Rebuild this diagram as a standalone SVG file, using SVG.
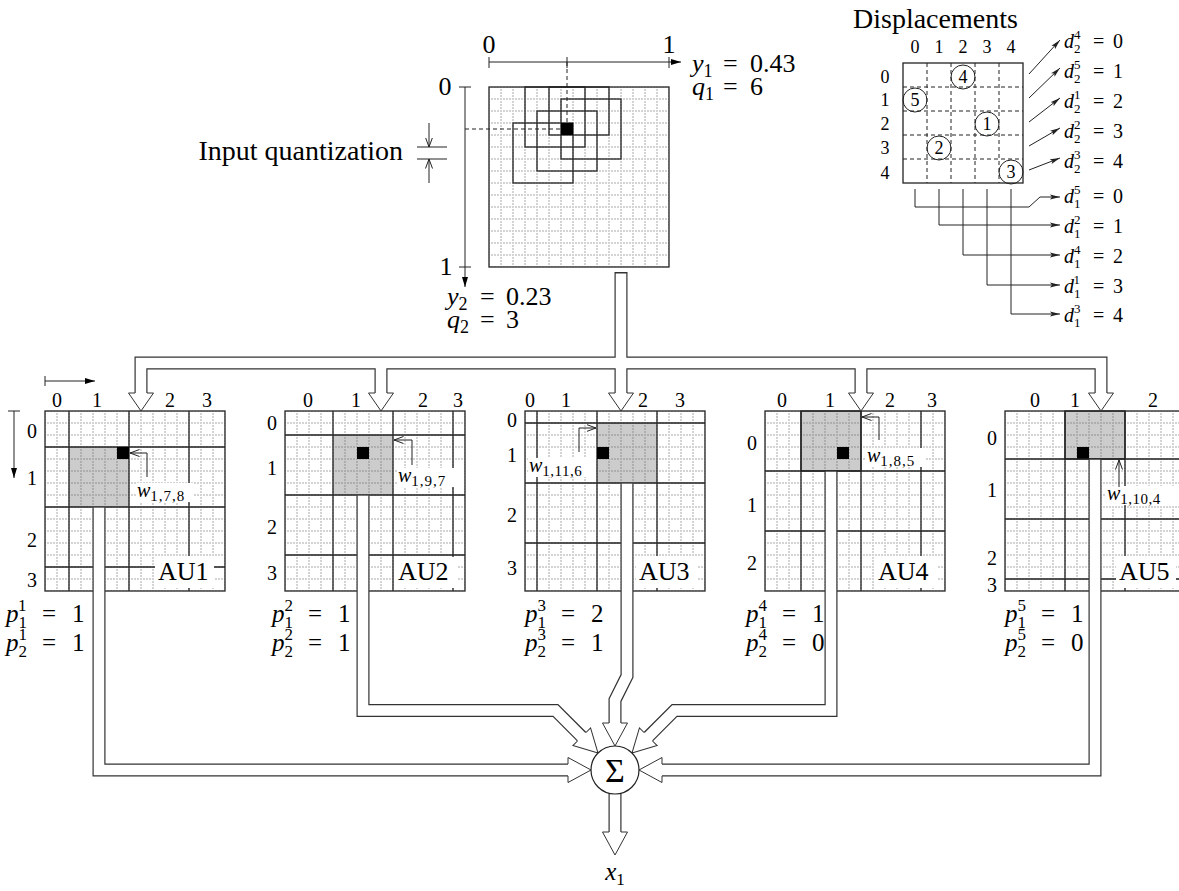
<svg xmlns="http://www.w3.org/2000/svg" width="1179" height="891" viewBox="0 0 1179 891" font-family="'Liberation Serif','DejaVu Serif',serif">
<defs>
<style>
text{font-family:'Liberation Serif','DejaVu Serif',serif}
.t{fill:#000}
.i{font-style:italic}
.c{fill:none;stroke:#222;stroke-width:1.3}
.ln{fill:none;stroke:#222;stroke-width:1}
.dash{fill:none;stroke:#222;stroke-width:1;stroke-dasharray:4,3}
.pb{fill:none;stroke:#333;stroke-width:13;stroke-linejoin:miter}
.pw{fill:none;stroke:#fff;stroke-width:10.6;stroke-linejoin:miter}
.head{fill:#fff;stroke:#333;stroke-width:1}
.lbl{fill:#fff}
</style>
<pattern id="fine" x="8.5" y="2.5" width="12" height="12" patternUnits="userSpaceOnUse">
<path d="M0.5,0V12M0,0.5H12" fill="none" stroke="#555" stroke-width="1" stroke-dasharray="1,2"/>
</pattern>
<marker id="af" viewBox="0 0 10 6" refX="10" refY="3" markerWidth="10" markerHeight="6" markerUnits="userSpaceOnUse" orient="auto">
<path d="M0,0L10,3L0,6z" fill="#000"/>
</marker>
<marker id="ao" viewBox="0 0 10 8" refX="9.5" refY="4" markerWidth="10" markerHeight="8" markerUnits="userSpaceOnUse" orient="auto">
<path d="M0,0.5L9.5,4L0,7.5" fill="none" stroke="#222" stroke-width="1"/>
</marker>
<marker id="as" viewBox="0 0 10 6" refX="10" refY="3" markerWidth="10" markerHeight="6" markerUnits="userSpaceOnUse" orient="auto">
<path d="M0,0.5L10,3L0,5.5L2,3z" fill="#222"/>
</marker>
</defs>
<rect width="1179" height="891" fill="#fff"/>

<!-- Input grid -->
<g id="input">
<rect x="489" y="87" width="180" height="180" fill="url(#fine)"/>
<rect class="c" x="525" y="87" width="60" height="60"/>
<rect class="c" x="549" y="87" width="60" height="48"/>
<rect class="c" x="561" y="99" width="60" height="60"/>
<rect class="c" x="537" y="111" width="60" height="60"/>
<rect class="c" x="513" y="123" width="60" height="60"/>
<rect x="561" y="123" width="12" height="12" fill="#000"/>
<rect class="c" x="489" y="87" width="180" height="180"/>
<path class="dash" d="M567,62V123M465,129H561"/>
<path class="ln" d="M489,62H681" marker-end="url(#af)"/>
<path class="ln" d="M489,57V68M567,57V68M669,57V68"/>
<path class="ln" d="M465,87V287" marker-end="url(#af)"/>
<path class="ln" d="M459,87H471M459,267H471"/>
<text class="t" x="489" y="53" font-size="26" text-anchor="middle">0</text>
<text class="t" x="669" y="53" font-size="26" text-anchor="middle">1</text>
<text class="t" x="445" y="95" font-size="26" text-anchor="middle">0</text>
<text class="t" x="446" y="275" font-size="26" text-anchor="middle">1</text>
<text class="t" x="692" y="72" font-size="26"><tspan class="i">y</tspan><tspan font-size="18" dy="5">1</tspan><tspan x="723" dy="-5">=</tspan><tspan x="750">0.43</tspan></text>
<text class="t" x="692" y="95" font-size="26"><tspan class="i">q</tspan><tspan font-size="18" dy="5">1</tspan><tspan x="723" dy="-5">=</tspan><tspan x="750">6</tspan></text>
<text class="t" x="447" y="305" font-size="26"><tspan class="i">y</tspan><tspan font-size="18" dy="5">2</tspan><tspan x="480" dy="-5">=</tspan><tspan x="506">0.23</tspan></text>
<text class="t" x="447" y="328" font-size="26"><tspan class="i">q</tspan><tspan font-size="18" dy="5">2</tspan><tspan x="480" dy="-5">=</tspan><tspan x="506">3</tspan></text>
</g>

<g id="quantization">
<text class="t" x="403" y="160" font-size="28" text-anchor="end">Input quantization</text>
<path class="ln" d="M417,147H447M417,159H447"/>
<path class="ln" d="M429,123V147" marker-end="url(#ao)"/>
<path class="ln" d="M429,183V159" marker-end="url(#ao)"/>
</g>

<!-- Displacements -->
<g id="displacements">
<text class="t" x="853" y="28" font-size="28">Displacements</text>
<path class="dash" d="M927,63V183M951,63V183M975,63V183M999,63V183M903,87H1023M903,111H1023M903,135H1023M903,159H1023" stroke-dasharray="5,4"/>
<rect class="c" x="903" y="63" width="120" height="120"/>
<g class="t" font-size="18" text-anchor="middle">
<text x="915" y="53">0</text><text x="939" y="53">1</text><text x="963" y="53">2</text><text x="987" y="53">3</text><text x="1011" y="53">4</text>
<text x="885" y="83">0</text><text x="885" y="106">1</text><text x="885" y="130">2</text><text x="885" y="154">3</text><text x="885" y="179">4</text>
</g>
<g class="ln">
<circle cx="963" cy="77" r="12"/><circle cx="915" cy="100" r="12"/><circle cx="987" cy="124" r="12"/><circle cx="939" cy="148" r="12"/><circle cx="1011" cy="172" r="12"/>
</g>
<g class="t" font-size="18" text-anchor="middle">
<text x="963" y="83">4</text><text x="915" y="106">5</text><text x="987" y="130">1</text><text x="939" y="154">2</text><text x="1011" y="178">3</text>
</g>
<g class="ln">
<path d="M1029,74L1060,40" marker-end="url(#as)"/>
<path d="M1029,98L1060,68" marker-end="url(#as)"/>
<path d="M1029,122L1060,98" marker-end="url(#as)"/>
<path d="M1029,146L1060,128" marker-end="url(#as)"/>
<path d="M1029,170L1060,158" marker-end="url(#as)"/>
<path d="M915,189V207H1029L1040,197H1060" marker-end="url(#as)"/>
<path d="M939,189V225H1060" marker-end="url(#as)"/>
<path d="M963,189V255H1060" marker-end="url(#as)"/>
<path d="M987,189V285H1060" marker-end="url(#as)"/>
<path d="M1011,189V314H1060" marker-end="url(#as)"/>
</g>
<g class="t" font-size="20">
<text x="1064" y="48"><tspan class="i">d</tspan><tspan font-size="13" dy="5">2</tspan><tspan font-size="13" dx="-6.5" dy="-14">4</tspan><tspan x="1093" dy="9">=</tspan><tspan x="1113">0</tspan></text>
<text x="1064" y="78"><tspan class="i">d</tspan><tspan font-size="13" dy="5">2</tspan><tspan font-size="13" dx="-6.5" dy="-14">5</tspan><tspan x="1093" dy="9">=</tspan><tspan x="1113">1</tspan></text>
<text x="1064" y="108"><tspan class="i">d</tspan><tspan font-size="13" dy="5">2</tspan><tspan font-size="13" dx="-6.5" dy="-14">1</tspan><tspan x="1093" dy="9">=</tspan><tspan x="1113">2</tspan></text>
<text x="1064" y="138"><tspan class="i">d</tspan><tspan font-size="13" dy="5">2</tspan><tspan font-size="13" dx="-6.5" dy="-14">2</tspan><tspan x="1093" dy="9">=</tspan><tspan x="1113">3</tspan></text>
<text x="1064" y="168"><tspan class="i">d</tspan><tspan font-size="13" dy="5">2</tspan><tspan font-size="13" dx="-6.5" dy="-14">3</tspan><tspan x="1093" dy="9">=</tspan><tspan x="1113">4</tspan></text>
<text x="1064" y="203"><tspan class="i">d</tspan><tspan font-size="13" dy="5">1</tspan><tspan font-size="13" dx="-6.5" dy="-14">5</tspan><tspan x="1093" dy="9">=</tspan><tspan x="1113">0</tspan></text>
<text x="1064" y="233"><tspan class="i">d</tspan><tspan font-size="13" dy="5">1</tspan><tspan font-size="13" dx="-6.5" dy="-14">2</tspan><tspan x="1093" dy="9">=</tspan><tspan x="1113">1</tspan></text>
<text x="1064" y="263"><tspan class="i">d</tspan><tspan font-size="13" dy="5">1</tspan><tspan font-size="13" dx="-6.5" dy="-14">4</tspan><tspan x="1093" dy="9">=</tspan><tspan x="1113">2</tspan></text>
<text x="1064" y="293"><tspan class="i">d</tspan><tspan font-size="13" dy="5">1</tspan><tspan font-size="13" dx="-6.5" dy="-14">1</tspan><tspan x="1093" dy="9">=</tspan><tspan x="1113">3</tspan></text>
<text x="1064" y="322"><tspan class="i">d</tspan><tspan font-size="13" dy="5">1</tspan><tspan font-size="13" dx="-6.5" dy="-14">3</tspan><tspan x="1093" dy="9">=</tspan><tspan x="1113">4</tspan></text>
</g>
</g>

<!-- AU1 -->
<g id="au1">
<rect x="45" y="411" width="180" height="180" fill="#fff"/>
<rect x="69" y="447" width="60" height="60" fill="#ccc"/>
<rect x="45" y="411" width="180" height="180" fill="url(#fine)"/>
<path class="c" d="M69,411V591M129,411V591M189,411V591M45,447H225M45,507H225M45,567H225"/>
<rect x="117" y="447" width="12" height="12" fill="#000"/>
<rect class="c" x="45" y="411" width="180" height="180"/>
<rect class="lbl" x="155" y="556" width="59" height="32"/>
<text class="t" x="158" y="580" font-size="26">AU1</text>
<rect class="lbl" x="136" y="483" width="58" height="19"/>
<text class="t" x="137" y="497" font-size="20"><tspan class="i">w</tspan><tspan font-size="15" dy="4" letter-spacing="1">1,7,8</tspan></text>
<path class="ln" d="M147,477V453H130" marker-end="url(#ao)"/>
<path class="ln" d="M45,376V386M45,381H95" marker-end="url(#af)"/>
<path class="ln" d="M8,411H20M14,411V478" marker-end="url(#af)"/>
<g class="t" font-size="20" text-anchor="middle">
<text x="57" y="407">0</text><text x="97" y="407">1</text><text x="170" y="407">2</text><text x="207" y="407">3</text>
<text x="32" y="438">0</text><text x="32" y="485">1</text><text x="32" y="547">2</text><text x="32" y="587">3</text>
</g>
</g>

<!-- AU2 -->
<g id="au2">
<rect x="285" y="411" width="180" height="180" fill="#fff"/>
<rect x="333" y="435" width="60" height="60" fill="#ccc"/>
<rect x="285" y="411" width="180" height="180" fill="url(#fine)"/>
<path class="c" d="M333,411V591M393,411V591M453,411V591M285,435H465M285,495H465M285,555H465"/>
<rect x="357" y="447" width="12" height="12" fill="#000"/>
<rect class="c" x="285" y="411" width="180" height="180"/>
<rect class="lbl" x="394" y="557" width="64" height="31"/>
<text class="t" x="398" y="580" font-size="26">AU2</text>
<rect class="lbl" x="397" y="468" width="66" height="19"/>
<text class="t" x="398" y="482" font-size="20"><tspan class="i">w</tspan><tspan font-size="15" dy="4" letter-spacing="1">1,9,7</tspan></text>
<path class="ln" d="M412,465V440H394" marker-end="url(#ao)"/>
<g class="t" font-size="20" text-anchor="middle">
<text x="308" y="407">0</text><text x="356" y="407">1</text><text x="423" y="407">2</text><text x="458" y="407">3</text>
<text x="272" y="430">0</text><text x="272" y="475">1</text><text x="272" y="534">2</text><text x="272" y="580">3</text>
</g>
</g>

<!-- AU3 -->
<g id="au3">
<rect x="525" y="411" width="180" height="180" fill="#fff"/>
<rect x="597" y="423" width="60" height="60" fill="#ccc"/>
<rect x="525" y="411" width="180" height="180" fill="url(#fine)"/>
<path class="c" d="M537,411V591M597,411V591M657,411V591M525,423H705M525,483H705M525,543H705"/>
<rect x="597" y="447" width="12" height="12" fill="#000"/>
<rect class="c" x="525" y="411" width="180" height="180"/>
<rect class="lbl" x="636" y="556" width="62" height="32"/>
<text class="t" x="639" y="580" font-size="26">AU3</text>
<rect class="lbl" x="528" y="458" width="68" height="19"/>
<text class="t" x="529" y="472" font-size="20"><tspan class="i">w</tspan><tspan font-size="15" dy="4" letter-spacing="0.5">1,11,6</tspan></text>
<path class="ln" d="M579,452V428H596" marker-end="url(#ao)"/>
<g class="t" font-size="20" text-anchor="middle">
<text x="530" y="407">0</text><text x="566" y="407">1</text><text x="643" y="407">2</text><text x="680" y="407">3</text>
<text x="512" y="427">0</text><text x="512" y="462">1</text><text x="512" y="522">2</text><text x="512" y="575">3</text>
</g>
</g>

<!-- AU4 -->
<g id="au4">
<rect x="765" y="411" width="180" height="180" fill="#fff"/>
<rect x="801" y="411" width="60" height="60" fill="#ccc"/>
<rect x="765" y="411" width="180" height="180" fill="url(#fine)"/>
<path class="c" d="M801,411V591M861,411V591M921,411V591M765,471H945M765,531H945"/>
<rect x="837" y="447" width="12" height="12" fill="#000"/>
<rect class="c" x="801" y="411" width="60" height="60"/>
<rect class="c" x="765" y="411" width="180" height="180"/>
<rect class="lbl" x="875" y="556" width="62" height="32"/>
<text class="t" x="878" y="580" font-size="26">AU4</text>
<rect class="lbl" x="866" y="448" width="60" height="19"/>
<text class="t" x="867" y="462" font-size="20"><tspan class="i">w</tspan><tspan font-size="15" dy="4" letter-spacing="1">1,8,5</tspan></text>
<path class="ln" d="M879,440V417H862" marker-end="url(#ao)"/>
<g class="t" font-size="20" text-anchor="middle">
<text x="782" y="407">0</text><text x="830" y="407">1</text><text x="890" y="407">2</text><text x="932" y="407">3</text>
<text x="752" y="450">0</text><text x="752" y="512">1</text><text x="752" y="570">2</text>
</g>
</g>

<!-- AU5 -->
<g id="au5">
<rect x="1005" y="411" width="180" height="180" fill="#fff"/>
<rect x="1065" y="411" width="60" height="48" fill="#ccc"/>
<rect x="1005" y="411" width="180" height="180" fill="url(#fine)"/>
<path class="c" d="M1065,411V591M1125,411V591M1005,459H1185M1005,519H1185M1005,579H1185"/>
<rect x="1077" y="447" width="12" height="12" fill="#000"/>
<rect class="c" x="1065" y="411" width="60" height="48"/>
<rect class="c" x="1005" y="411" width="180" height="180"/>
<rect class="lbl" x="1116" y="556" width="60" height="32"/>
<text class="t" x="1119" y="580" font-size="26">AU5</text>
<rect class="lbl" x="1106" y="486" width="73" height="19"/>
<text class="t" x="1107" y="500" font-size="20"><tspan class="i">w</tspan><tspan font-size="15" dy="4" letter-spacing="0.5">1,10,4</tspan></text>
<path class="ln" d="M1119,487V460" marker-end="url(#ao)"/>
<g class="t" font-size="20" text-anchor="middle">
<text x="1035" y="407">0</text><text x="1075" y="407">1</text><text x="1153" y="407">2</text>
<text x="992" y="445">0</text><text x="992" y="497">1</text><text x="992" y="565">2</text><text x="992" y="592">3</text>
</g>
</g>

<!-- p labels -->
<g id="plabels" class="t" font-size="25">
<text x="6" y="622"><tspan class="i">p</tspan><tspan font-size="17" dy="6">1</tspan><tspan font-size="17" dx="-8.5" dy="-17">1</tspan><tspan x="42" dy="11">=</tspan><tspan x="72">1</tspan></text>
<text x="6" y="651"><tspan class="i">p</tspan><tspan font-size="17" dy="6">2</tspan><tspan font-size="17" dx="-8.5" dy="-17">1</tspan><tspan x="42" dy="11">=</tspan><tspan x="72">1</tspan></text>
<text x="272" y="622"><tspan class="i">p</tspan><tspan font-size="17" dy="6">1</tspan><tspan font-size="17" dx="-8.5" dy="-17">2</tspan><tspan x="308" dy="11">=</tspan><tspan x="338">1</tspan></text>
<text x="272" y="651"><tspan class="i">p</tspan><tspan font-size="17" dy="6">2</tspan><tspan font-size="17" dx="-8.5" dy="-17">2</tspan><tspan x="308" dy="11">=</tspan><tspan x="338">1</tspan></text>
<text x="525" y="622"><tspan class="i">p</tspan><tspan font-size="17" dy="6">1</tspan><tspan font-size="17" dx="-8.5" dy="-17">3</tspan><tspan x="561" dy="11">=</tspan><tspan x="591">2</tspan></text>
<text x="525" y="651"><tspan class="i">p</tspan><tspan font-size="17" dy="6">2</tspan><tspan font-size="17" dx="-8.5" dy="-17">3</tspan><tspan x="561" dy="11">=</tspan><tspan x="591">1</tspan></text>
<text x="746" y="622"><tspan class="i">p</tspan><tspan font-size="17" dy="6">1</tspan><tspan font-size="17" dx="-8.5" dy="-17">4</tspan><tspan x="782" dy="11">=</tspan><tspan x="812">1</tspan></text>
<text x="746" y="651"><tspan class="i">p</tspan><tspan font-size="17" dy="6">2</tspan><tspan font-size="17" dx="-8.5" dy="-17">4</tspan><tspan x="782" dy="11">=</tspan><tspan x="812">0</tspan></text>
<text x="1005" y="622"><tspan class="i">p</tspan><tspan font-size="17" dy="6">1</tspan><tspan font-size="17" dx="-8.5" dy="-17">5</tspan><tspan x="1041" dy="11">=</tspan><tspan x="1071">1</tspan></text>
<text x="1005" y="651"><tspan class="i">p</tspan><tspan font-size="17" dy="6">2</tspan><tspan font-size="17" dx="-8.5" dy="-17">5</tspan><tspan x="1041" dy="11">=</tspan><tspan x="1071">0</tspan></text>
</g>

<!-- connectors -->
<g id="connectors">
<path class="pb" d="M621,272V393M141,393V363H1101V393M381,363V393M861,363V393"/>
<path class="pw" d="M621,273.4V394M141,394V363H1101V394M381,363V394M861,363V394"/>
<path class="head" d="M135,393H128.5L141,411L153.5,393H147"/>
<path class="head" d="M375,393H368.5L381,411L393.5,393H387"/>
<path class="head" d="M615,393H608.5L621,411L633.5,393H627"/>
<path class="head" d="M855,393H848.5L861,411L873.5,393H867"/>
<path class="head" d="M1095,393H1088.5L1101,411L1113.5,393H1107"/>

<path class="pb" d="M99,507.7V770H568M1095,459.7V770H662M627,483.7V676L615,700V723M363,495.7V710.5H555.5L581.7,736.7M831,471.7V710.5H674.5L648.3,736.7M615,790V832"/>
<path class="pw" d="M99,507.7V770H569M1095,459.7V770H661M627,483.7V676L615,700V724M363,495.7V710.5H555.5L582.4,737.4M831,471.7V710.5H674.5L647.6,737.4M615,790V833"/>
<path class="head" d="M-23,-6V-12.5L0,0L-23,12.5V6" transform="translate(591,770)"/>
<path class="head" d="M-23,-6V-12.5L0,0L-23,12.5V6" transform="translate(639,770) rotate(180)"/>
<path class="head" d="M-23,-6V-12.5L0,0L-23,12.5V6" transform="translate(615,746) rotate(90)"/>
<path class="head" d="M-23,-6V-12.5L0,0L-23,12.5V6" transform="translate(598,753) rotate(45)"/>
<path class="head" d="M-23,-6V-12.5L0,0L-23,12.5V6" transform="translate(632,753) rotate(135)"/>
<path class="head" d="M-23,-6V-12.5L0,0L-23,12.5V6" transform="translate(615,855) rotate(90)"/>
</g>

<g id="sum">
<circle cx="615" cy="770" r="24" fill="#fff" stroke="#222" stroke-width="1.2"/>
<text class="t" x="615" y="782" font-size="34" text-anchor="middle">Σ</text>
</g>
<g id="output">
<text class="t" x="615" y="880" font-size="25" text-anchor="middle"><tspan class="i">x</tspan><tspan font-size="17" dy="5">1</tspan></text>
</g>
</svg>
